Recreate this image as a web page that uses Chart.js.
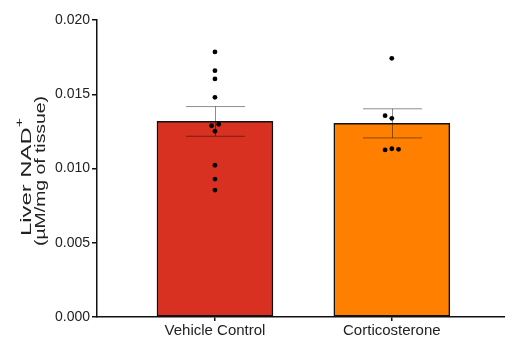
<!DOCTYPE html>
<html>
<head>
<meta charset="utf-8">
<script src="https://cdn.jsdelivr.net/npm/chart.js@4.4.1/dist/chart.umd.min.js"></script>
<style>
  html, body { margin: 0; padding: 0; background: #fff; }
  #wrap { width: 505px; height: 338px; }
</style>
</head>
<body>
<div id="wrap"><canvas id="c" width="505" height="338"></canvas></div>
<script>
// Groups on the x axis
const categories = ['Vehicle Control', 'Corticosterone'];
// Group means and standard errors (µM/mg of tissue)
const means = [0.01317, 0.01304];
const sems = [0.00100, 0.00098];
// Individual animals per group
const vehiclePoints = [0.01785, 0.01659, 0.01603, 0.01479, 0.01288, 0.01298, 0.01251, 0.01022, 0.00929, 0.00855];
const vehicleJitter = [0, 0, 0, 0, -0.019, 0.021, 0, 0, 0, 0];
const corticoPoints = [0.01742, 0.01356, 0.01338, 0.01125, 0.01133, 0.01129];
const corticoJitter = [0, -0.038, 0, -0.038, 0, 0.038];
// Y axis ticks
const yTicks = [0, 0.005, 0.010, 0.015, 0.020];

const barColors = ['rgb(217,49,33)', 'rgb(255,128,0)'];
const FONT = "'Liberation Sans', Arial, sans-serif";

const scatterData = [];
vehiclePoints.forEach((v, i) => scatterData.push({ x: 0 + vehicleJitter[i], y: v }));
corticoPoints.forEach((v, i) => scatterData.push({ x: 1 + corticoJitter[i], y: v }));

// Mean ± SEM whiskers, drawn on top of the bars and under the dots
const errorBars = {
  id: 'errorBars',
  afterDatasetDraw(chart, args) {
    if (args.index !== 0) return;
    const { ctx, scales } = chart;
    const xs = scales.x, ys = scales.y;
    ctx.save();
    ctx.strokeStyle = 'rgba(0,0,0,0.45)';
    ctx.lineWidth = 1;
    means.forEach((m, i) => {
      const cx = Math.round(xs.getPixelForValue(i)) + 0.5;
      const hi = ys.getPixelForValue(m + sems[i]);
      const lo = ys.getPixelForValue(m - sems[i]);
      const half = 29.5;
      ctx.beginPath();
      ctx.moveTo(cx, hi); ctx.lineTo(cx, lo);
      ctx.moveTo(cx - half, hi); ctx.lineTo(cx + half, hi);
      ctx.moveTo(cx - half, lo); ctx.lineTo(cx + half, lo);
      ctx.stroke();
    });
    ctx.restore();
  }
};

// Draws rotated text stretched along its baseline to a given length
function drawStretched(ctx, parts, cx, cy, length) {
  ctx.save();
  ctx.translate(cx, cy);
  ctx.rotate(-Math.PI / 2);
  let natural = 0;
  parts.forEach(p => { ctx.font = p.size + 'px ' + FONT; natural += ctx.measureText(p.text).width; });
  ctx.scale(length / natural, 1);
  let x = -natural / 2;
  parts.forEach(p => {
    ctx.font = p.size + 'px ' + FONT;
    ctx.fillText(p.text, x, p.dy);
    x += ctx.measureText(p.text).width;
  });
  ctx.restore();
}

// Two-line rotated y-axis title with a superscript "+"
const yTitle = {
  id: 'yTitle',
  afterDraw(chart) {
    const { ctx } = chart;
    ctx.save();
    ctx.fillStyle = '#222';
    ctx.textBaseline = 'middle';
    ctx.textAlign = 'left';
    drawStretched(ctx, [{ text: 'Liver NAD', size: 15, dy: 2 }, { text: '+', size: 10, dy: -5 }], 25, 177, 118);
    drawStretched(ctx, [{ text: '(µM/mg of tissue)', size: 15, dy: 0 }], 41, 171, 150);
    ctx.restore();
  }
};

new Chart(document.getElementById('c'), {
  data: {
    datasets: [
      {
        type: 'bar',
        data: means.map((m, i) => ({ x: i, y: m })),
        backgroundColor: barColors,
        borderColor: '#111',
        borderWidth: 1.5,
        borderSkipped: false,
        barThickness: 116,
        order: 2
      },
      {
        type: 'scatter',
        data: scatterData,
        backgroundColor: '#000',
        borderColor: '#000',
        pointRadius: 2.4,
        borderWidth: 0,
        order: 1
      }
    ]
  },
  options: {
    responsive: false,
    animation: false,
    events: [],
    layout: { autoPadding: false, padding: { top: 20, right: 0, left: 0, bottom: 0 } },
    plugins: { legend: { display: false }, tooltip: { enabled: false } },
    scales: {
      x: {
        type: 'linear',
        offset: false,
        min: -0.667,
        max: 1.64,
        afterBuildTicks(scale) { scale.ticks = categories.map((_, i) => ({ value: i })); },
        afterFit(scale) { scale.height = 21; scale.paddingRight = 0; scale.paddingLeft = 0; },
        ticks: {
          callback: v => categories[v],
          font: { family: FONT, size: 15 },
          color: '#222',
          padding: 1,
          maxRotation: 0,
          autoSkip: false
        },
        grid: { offset: false, drawOnChartArea: false, drawTicks: true, tickLength: 4, color: '#111', lineWidth: 1.5 },
        border: { color: '#111', width: 1.5 }
      },
      y: {
        min: 0,
        max: 0.020,
        afterBuildTicks(scale) { scale.ticks = yTicks.map(v => ({ value: v })); },
        afterFit(scale) { scale.width = 97; scale.paddingTop = 0; scale.paddingBottom = 0; },
        ticks: {
          callback: v => v.toFixed(3),
          font: { family: FONT, size: 14 },
          color: '#222',
          padding: 2
        },
        grid: { drawOnChartArea: false, drawTicks: true, tickLength: 5, color: '#111', lineWidth: 1.5 },
        border: { color: '#111', width: 1.5 }
      }
    }
  },
  plugins: [errorBars, yTitle]
});
</script>
</body>
</html>
